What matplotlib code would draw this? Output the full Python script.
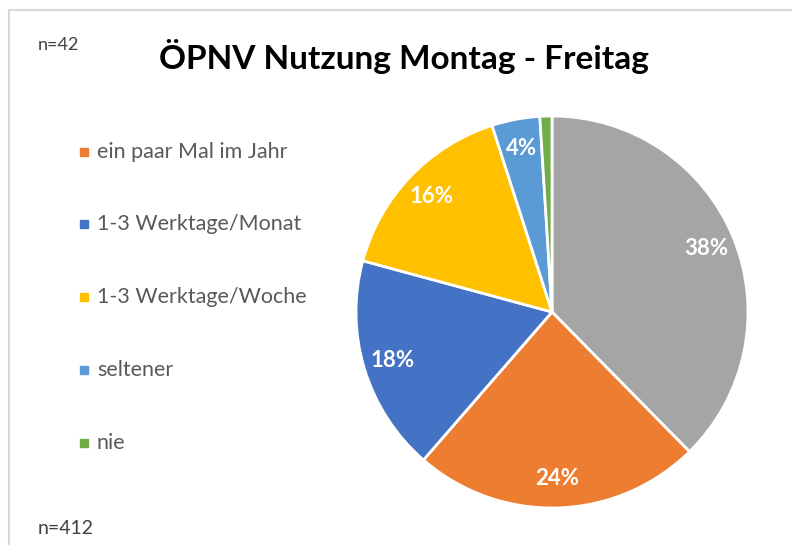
import numpy as np
import matplotlib.pyplot as plt
from matplotlib.patches import Rectangle

# slice data, clockwise from 12 o'clock
labels = ['häufiger', 'ein paar Mal im Jahr', '1-3 Werktage/Monat',
          '1-3 Werktage/Woche', 'seltener', 'nie']
values = [38, 24, 18, 16, 4, 1]
colors = ['#A5A5A5', '#ED7D31', '#4472C4', '#FFC000', '#5B9BD5', '#70AD47']
pct_text = ['38%', '24%', '18%', '16%', '4%', '']

plt.rcParams['font.family'] = ['Lato', 'DejaVu Sans']

fig = plt.figure(figsize=(7.92, 5.45), dpi=100)
W, H = 792, 545

# light gray chart frame (cut off at right and bottom)
fig.patches.append(Rectangle((9 / W, -0.1), 1.2, 1.1 - 10 / H, transform=fig.transFigure,
                             fill=False, edgecolor='#D9D9D9', linewidth=1.5))

# pie area: center ~ (552, 312), radius ~196 px
r = 196
cx, cy = 552, 312
ax = fig.add_axes([(cx - r) / W, (H - cy - r) / H, 2 * r / W, 2 * r / H])
wedges, _ = ax.pie(values, colors=colors, startangle=90, counterclock=False,
                   wedgeprops=dict(edgecolor='white', linewidth=2))
ax.set_xlim(-1, 1)
ax.set_ylim(-1, 1)
ax.set_aspect('equal')

# percentage labels
total = sum(values)
ang = 90.0
for v, t in zip(values, pct_text):
    span = v / total * 360
    mid = np.deg2rad(ang - span / 2)
    ang -= span
    if t:
        ax.text(0.85 * np.cos(mid), 0.85 * np.sin(mid), t, ha='center', va='center',
                color='white', fontsize=16, fontweight='bold')

# title and n notes
fig.text(404 / W, 1 - 57 / H, 'ÖPNV Nutzung Montag - Freitag', ha='center', va='center',
         fontsize=24, fontweight='bold', color='black')
fig.text(38 / W, 1 - 45 / H, 'n=42', ha='left', va='center', fontsize=13, color='#404040')
fig.text(38 / W, 1 - 528 / H, 'n=412', ha='left', va='center', fontsize=14, color='#404040')

# legend (gray slice not listed)
legend_y = [152, 224, 297, 370, 443]
for lab, col, y in zip(labels[1:], colors[1:], legend_y):
    fig.patches.append(Rectangle((80 / W, 1 - (y + 4) / H), 8 / W, 8 / H,
                                 transform=fig.transFigure, color=col))
    fig.text(97 / W, 1 - y / H, lab, ha='left', va='center', fontsize=15.5, color='#595959')

fig.savefig('out.png', dpi=100)
